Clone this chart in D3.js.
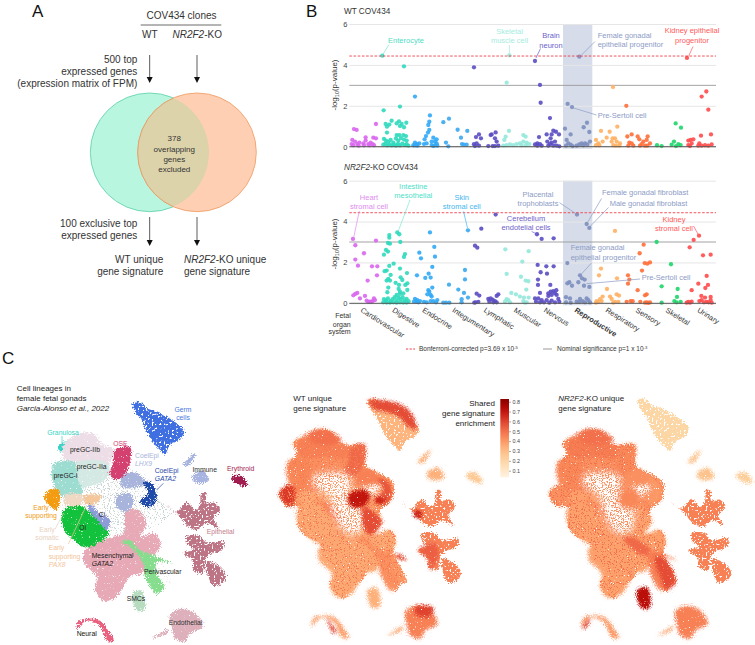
<!DOCTYPE html>
<html>
<head>
<meta charset="utf-8">
<title>COV434 gene signatures</title>
<script src="https://d3js.org/d3.v7.min.js"></script>
<style>
  body { margin: 0; background: #fff; }
  text { font-family: "Liberation Sans", Arial, sans-serif; }
</style>
</head>
<body>
<svg id="fig" width="755" height="645"></svg>
<script>
// --- panel B data: [cell type rank, -log10(p)] ---
const organSystems = ["Cardiovascular","Digestive","Endocrine","Integumentary","Lymphatic","Muscular","Nervous","Reproductive","Respiratory","Sensory","Skeletal","Urinary"];
const organCentres = [190,285,375,465,560,650,740,832,925,1015,1105,1200];
const organColors = ["#d966ee","#2fd9bd","#31a9f5","#3aa8ee","#5a4cc2","#93e8da","#5a4cc2","#7c8ebf","#ffb063","#ff6f3a","#1ed66a","#ff4b4b"];

const wtCardio = [[162,.86],[170,.82],[228,1.11],[157,.33],[165,.25],[197,.46],[197,.3],[220,.44],[228,.41],[155,.13],[160,.07],[172,.13],[178,.2],[190,.16],[205,.13],[212,.2],[218,.13],[208,.07],[222,.07],[192,.07],[176,.05]];
const wtDigestive = [[247,4.45],[312,3.93],[300,1.96],[251,1.78],[275,1.27],[297,1.24],[257,1.11],[268,1.08],[290,1.14],[305,1.11],[319,1.17],[261,.98],[300,1.01],[312,.95],[261,.69],[290,.57],[298,.57],[310,.57],[318,.52],[252,.38],[258,.3],[265,.25],[272,.33],[280,.2],[288,.4],[295,.3],[303,.42],[312,.35],[320,.3],[250,.1],[256,.15],[262,.06],[268,.12],[275,.06],[282,.1],[288,.05],[294,.14],[300,.06],[307,.15],[314,.08],[320,.12],[325,.05]];
const wtEndocrine = [[345,2.45],[390,1.53],[388,1.22],[385,1.06],[388,.82],[384,.69],[378,.52],[374,.36],[400,.44],[410,.36],[380,.16],[372,.13],[345,.2],[352,.13],[358,.16],[345,.07],[340,.07],[352,.05],[395,.25],[405,.25],[410,.16],[395,.08],[405,.06],[412,.05],[400,.03]];
const wtInteg = [[430,1.2],[447,1.37],[438,.2],[445,.02],[473,.83],[502,.77],[483,.44],[486,.13],[492,.1],[500,.1]];
const wtLymph = [[522,3.88],[537,.6],[528,.47],[543,.41],[522,.12],[530,.16],[537,.05],[525,.03],[575,.6],[587,.7],[585,.41],[572,.57],[590,.25],[565,.03],[578,.03],[595,.05],[585,.03]];
const wtMuscular = [[628,4.47],[620,3.13],[627,.77],[617,.49],[613,.33],[670,.57],[677,.49],[610,.05],[620,.07],[630,.11],[640,.08],[650,.13],[660,.16],[670,.25],[680,.2],[688,.13],[678,.07],[665,.07]];
const wtNervous = [[705,4.19],[720,3.02],[722,2.15],[750,1.4],[717,.47],[740,.6],[755,.6],[760,.78],[768,.73],[777,.6],[752,.41],[742,.25],[755,.2],[765,.25],[712,.16],[705,.11],[720,.13],[725,.05],[745,.05],[760,.05],[770,.05],[778,.02],[750,.13],[712,.05]];
const wtRepro = [[838,4.4],[803,2.09],[816,1.94],[795,.88],[812,.6],[861,1.17],[851,.95],[868,.72],[800,.33],[805,.16],[812,.1],[798,.05],[830,.05],[838,.11],[845,.16],[855,.16],[862,.11],[870,.25],[850,.07],[818,.03]];
const wtResp = [[939,2.92],[952,.98],[903,.77],[929,.73],[888,.33],[920,.44],[938,.41],[945,.41],[895,.16],[908,.25],[935,.25],[950,.25],[960,.16],[888,.07],[898,.07],[940,.07],[948,.05],[958,.05]];
const wtSensory = [[979,2.0],[995,.6],[982,.5],[1013,.5],[1043,.5],[1018,.36],[1040,.33],[1030,.25],[988,.2],[995,.16],[1000,.05],[985,.05],[1025,.13],[1035,.05],[1050,.16],[1020,.05],[1042,.05]];
const wtSkeletal = [[1127,1.14],[1143,.93],[1071,.07],[1085,.03],[1122,.25],[1135,.13],[1115,.1],[1128,.03],[1142,.08]];
const wtUrinary = [[1161,4.34],[1219,2.7],[1205,2.45],[1225,1.81],[1233,.6],[1203,.54],[1165,.3],[1172,.33],[1180,.36],[1165,.08],[1175,.16],[1198,.16],[1205,.05],[1215,.07],[1225,.05],[1235,.11],[1170,.03],[1195,.05]];

const koCardio = [[159,3.15],[166,2.84],[228,3.07],[192,2.45],[166,2.14],[174,1.84],[216,1.81],[232,1.81],[231,1.37],[203,1.11],[172,.51],[166,.46],[160,.39],[195,.36],[180,.24],[200,.13],[210,.08],[222,.24],[218,.11],[205,.07],[225,.16],[214,.07]];
const koDigestive = [[292,3.47],[298,3.38],[268,3.34],[268,3.21],[264,2.95],[270,2.92],[301,3.0],[258,2.61],[264,2.53],[252,2.38],[315,2.41],[312,2.27],[281,1.94],[268,1.83],[300,1.7],[260,1.6],[254,1.57],[272,1.39],[321,1.48],[302,1.27],[265,1.19],[260,1.11],[270,1.11],[307,1.14],[287,1.0],[297,.9],[322,.98],[316,.9],[265,.77],[296,.7],[322,.65],[300,.57],[262,.54],[290,.41],[300,.46],[310,.49],[252,.2],[258,.14],[264,.24],[272,.1],[278,.2],[284,.3],[290,.14],[296,.28],[302,.2],[308,.3],[314,.14],[320,.22],[326,.1],[250,.05],[260,.04],[270,.04],[280,.05],[290,.03],[300,.05],[310,.04],[320,.04]];
const koEndocrine = [[390,3.47],[403,2.76],[358,2.48],[363,2.2],[405,2.28],[397,1.78],[351,1.37],[386,1.45],[376,1.24],[392,1.26],[397,.77],[385,.64],[388,.57],[382,.44],[392,.41],[395,.33],[345,.21],[352,.16],[360,.11],[342,.08],[372,.07],[380,.05],[392,.11],[400,.11],[412,.16],[408,.05],[350,.07],[355,.05]];
const koInteg = [[504,3.57],[495,1.63],[495,1.17],[447,.91],[475,.67],[492,.51],[504,.28],[485,.2],[430,.03],[438,.03],[448,.03],[485,.05]];
const koLymph = [[587,4.34],[544,3.65],[525,2.82],[532,2.72],[530,.47],[538,.38],[527,.05],[535,.07],[523,.03],[565,.21],[572,.24],[578,.18],[585,.11],[595,.44],[590,.36],[568,.08],[580,.05],[590,.05]];
const koMuscular = [[616,2.64],[686,2.55],[667,2.04],[620,1.44],[663,1.3],[677,1.11],[685,1.08],[679,.67],[634,.51],[648,.44],[660,.33],[672,.28],[686,.28],[620,.2],[625,.16],[615,.08],[630,.05],[680,.05],[670,.11],[675,.03]];
const koNervous = [[711,3.38],[725,3.15],[761,3.18],[713,1.88],[739,1.81],[761,1.81],[722,1.52],[741,1.45],[714,1.16],[714,.9],[751,.9],[769,.64],[760,.6],[752,.57],[745,.49],[720,.51],[765,.49],[755,.41],[770,.41],[745,.36],[705,.24],[715,.24],[725,.16],[708,.08],[720,.05],[740,.16],[755,.13],[765,.05],[775,.21],[748,.03],[778,.07],[732,.05]];
const koRepro = [[831,4.34],[860,3.88],[868,3.69],[802,1.97],[840,1.37],[846,1.22],[854,1.16],[808,1.03],[802,.98],[835,1.03],[816,.86],[852,.86],[868,.8],[798,.3],[810,.24],[840,.21],[860,.24],[830,.08],[838,.07],[848,.11],[855,.05],[865,.16],[798,.05],[812,.03],[870,.05]];
const koResp = [[945,3.54],[903,1.7],[897,1.37],[951,1.22],[921,.7],[950,.44],[957,.38],[930,.33],[935,.21],[908,.33],[900,.2],[890,.11],[895,.07],[905,.11],[945,.07],[955,.07],[940,.03],[888,.03]];
const koSensory = [[1031,2.87],[1019,2.45],[1034,1.97],[1050,2.0],[1042,1.94],[1026,1.6],[984,1.37],[988,1.16],[984,.96],[1013,.64],[1040,.44],[1035,.39],[980,.07],[992,.11],[998,.1],[1021,.07],[1040,.05],[1050,.05],[1045,.02],[1035,.03]];
const koSkeletal = [[1070,3.0],[1113,1.91],[1085,.83],[1133,.7],[1131,.31],[1123,.11],[1142,.07],[1085,.03],[1130,.05]];
const koUrinary = [[1197,3.31],[1181,3.1],[1169,2.74],[1209,2.35],[1232,2.38],[1220,1.34],[1195,.96],[1224,.9],[1216,.75],[1175,.64],[1204,.36],[1232,.31],[1215,.28],[1205,.16],[1198,.11],[1220,.07],[1232,.16],[1165,.07],[1175,.08],[1160,.03],[1170,.03],[1212,.05],[1226,.05],[1235,.03]];

const wtSeries = [wtCardio,wtDigestive,wtEndocrine,wtInteg,wtLymph,wtMuscular,wtNervous,wtRepro,wtResp,wtSensory,wtSkeletal,wtUrinary];
const koSeries = [koCardio,koDigestive,koEndocrine,koInteg,koLymph,koMuscular,koNervous,koRepro,koResp,koSensory,koSkeletal,koUrinary];
const yTicks = [0,2,4,6];
const bonferroni = 4.433;
const nominal = 3;
const reproductiveBand = [789,877];

// --- panel A data ---
const vennCentres = [449,591];
const vennRadius = 178;

// --- panel C data: lineage outlines in UMAP units ---
const bodyOutline = [[132,379],[150,359],[175,354],[180,344],[158,299],[185,259],[175,224],[230,214],[265,187],[290,194],[325,234],[385,234],[395,299],[435,319],[475,349],[465,404],[435,429],[435,464],[410,509],[445,499],[465,489],[482,519],[475,554],[515,644],[495,649],[485,674],[435,599],[410,599],[380,639],[340,669],[330,694],[295,674],[285,649],[305,609],[265,569],[255,529],[215,509],[190,479],[190,419],[155,419]];
const sparseHoles = [
  [[236,325],[290,315],[342,325],[348,374],[338,405],[384,425],[384,482],[360,503],[325,492],[292,430],[282,389],[236,358]],
  [[388,345],[432,350],[438,376],[405,388],[383,370]]
];
const scatterCloud = [[235,345],[340,330],[420,345],[490,400],[520,425],[440,480],[345,495],[320,430],[275,395]];
const clusterColors = ["#3f6fe0","#35d4c4","#ecdde6","#d5e9e4","#9ddcd0","#d4406f","#e8a9b6","#12c23c","#8d9bd8","#f0d9c4","#f5c79c","#f39c12","#86dd8e","#b8dcc0","#ddb0bb","#ddb0bb","#e8607e","#bd7485","#bd7485","#bd7485","#a7b3e0","#a7b3e0","#a21d4f","#a9b4dc","#a9b4dc","#1f49a8"];
const clusterShapes = [
  // germ
  [[398,100],[420,95],[440,115],[470,125],[500,140],[530,160],[552,185],[542,208],[510,225],[495,252],[478,238],[458,215],[440,185],[425,150],[405,125]],
  // granulosa
  [[176,226],[190,216],[210,212],[198,230],[186,245],[175,238]],
  // preGC-IIb, IIa, I
  [[188,225],[210,205],[250,187],[285,195],[305,225],[338,235],[338,262],[320,287],[270,284],[225,282],[192,264]],
  [[222,280],[322,280],[328,315],[302,338],[270,348],[245,356],[225,335]],
  [[165,278],[225,278],[234,330],[248,372],[200,382],[172,368],[156,330],[154,300]],
  // OSE
  [[345,240],[390,232],[392,265],[372,320],[345,328],[328,315],[340,280]],
  // mesenchymal
  [[380,420],[415,420],[440,465],[420,500],[465,490],[482,530],[440,570],[425,610],[390,620],[350,680],[310,692],[285,660],[290,620],[252,580],[252,545],[290,518],[340,500],[370,490]],
  // Oi, Ci
  [[188,425],[225,405],[265,420],[295,450],[327,490],[295,518],[255,532],[215,505],[188,470]],
  [[265,400],[300,430],[330,450],[320,480],[300,460],[270,425]],
  // early somatic, PAX8, early supporting
  [[195,375],[245,375],[245,402],[195,405]],
  [[250,378],[305,378],[285,402],[258,402]],
  [[133,378],[150,358],[175,358],[180,385],[170,420],[150,408],[135,390]],
  // perivascular, SMCs
  [[365,515],[390,510],[420,540],[470,560],[515,580],[470,575],[470,610],[492,650],[470,672],[435,620],[430,580],[395,535]],
  [[398,670],[425,662],[434,718],[410,722],[400,700]],
  // endothelial and its tail
  [[510,735],[545,716],[585,730],[608,770],[572,790],[555,815],[525,805],[515,770]],
  [[458,806],[505,778],[500,790]],
  // neural
  [[230,778],[236,752],[260,746],[300,752],[330,790],[342,812],[322,812],[296,765],[258,752]],
  // epithelial (three lobes)
  [[500,405],[530,425],[560,395],[585,420],[600,405],[603,370],[618,372],[618,400],[645,398],[660,420],[640,445],[655,475],[620,460],[590,480],[560,465],[540,440]],
  [[560,499],[600,499],[620,519],[670,514],[665,539],[630,554],[615,574],[610,609],[580,599],[580,574],[550,549],[580,539],[560,519]],
  [[620,574],[650,584],[678,614],[668,639],[640,647],[625,619]],
  // immune, thin immune, erythroid
  [[578,316],[610,303],[627,330],[605,340],[578,332]],
  [[548,286],[587,248],[566,287]],
  [[693,326],[715,314],[742,340],[737,350],[710,341]],
  // CoelEpi LHX9 (two parts), GATA2
  [[365,320],[400,305],[430,325],[440,345],[420,350],[395,355],[365,350]],
  [[350,380],[390,370],[400,400],[380,425],[350,410]],
  [[430,335],[455,340],[470,370],[465,400],[445,412],[420,395],[445,370]]
];
const patchyClusters = [0,17,18,19];
const afterHoles = 23; // clusters from this index are drawn over the sparse area
const wtEnrichment = [.33,.42,.46,.42,.44,.52,.36,.36,.46,.36,.36,.62,.42,.34,.46,.36,.38,.46,.46,.46,.34,.34,.26,.46,.46,.56];
const koEnrichment = [.2,.42,.47,.42,.44,.44,.38,.38,.42,.38,.38,.42,.46,.7,.46,.36,.4,.46,.46,.46,.28,.28,.24,.42,.44,.4];
const wtBody = .4;
const koBody = .42;
const wtHotspots = [
  [[400,99],[435,99],[490,109],[530,139],[545,189],[520,179],[490,149],[450,134],[420,129]],
  [[220,204],[265,187],[320,219],[280,234],[230,224]],
  [[340,384],[390,369],[405,389],[380,419],[350,419]],
  [[385,419],[440,464],[405,504],[385,479]],
  [[420,394],[450,394],[445,409],[425,409]],
  [[535,434],[560,434],[555,454],[540,449]],
  [[550,549],[600,529],[610,569],[585,609],[580,579]],
  [[540,719],[595,721],[585,749],[545,744]],
  [[275,754],[305,799],[295,799],[280,769]],
  [[485,559],[515,579],[490,574]]
];
const wtHotValues = [.58,.5,.7,.58,.66,.68,.54,.6,.6,.6];
const koHotspots = [
  [[450,572],[475,572],[512,645],[485,668],[462,619]],
  [[398,672],[425,664],[431,722],[412,722]],
  [[355,509],[385,514],[435,549],[415,564],[375,539]],
  [[230,194],[285,189],[325,219],[265,234],[225,219]],
  [[230,784],[255,754],[247,779]]
];
const koHotValues = [.58,.72,.52,.5,.6];
const enrichTicks = [.1,.2,.3,.4,.5,.6,.7,.8];

const svg = d3.select("#fig");
const defs = svg.append("defs");

// speckle filters so the filled shapes read as dense / patchy / sparse dot clouds
function speckle(id, freq, k, t, disp, blur) {
  const f = defs.append("filter").attr("id", id)
    .attr("x", "-25%").attr("y", "-25%").attr("width", "150%").attr("height", "150%")
    .attr("color-interpolation-filters", "sRGB");
  f.append("feTurbulence").attr("type", "fractalNoise").attr("baseFrequency", freq)
    .attr("numOctaves", 2).attr("seed", 4).attr("result", "n");
  f.append("feTurbulence").attr("type", "fractalNoise").attr("baseFrequency", 0.9)
    .attr("numOctaves", 1).attr("seed", 9).attr("result", "n2");
  f.append("feGaussianBlur").attr("in", "SourceGraphic").attr("stdDeviation", blur).attr("result", "s");
  f.append("feDisplacementMap").attr("in", "s").attr("in2", "n2").attr("scale", disp)
    .attr("xChannelSelector", "R").attr("yChannelSelector", "G").attr("result", "d");
  f.append("feColorMatrix").attr("in", "n").attr("type", "matrix")
    .attr("values", `0 0 0 0 0 0 0 0 0 0 0 0 0 0 0 ${k} 0 0 0 ${t}`).attr("result", "m");
  f.append("feComposite").attr("in", "d").attr("in2", "m").attr("operator", "in").attr("result", "c");
  f.append("feGaussianBlur").attr("in", "c").attr("stdDeviation", 0.3);
}
speckle("dense", 0.85, 9, -1.8, 8, 0.2);
speckle("soft", 0.85, 9, -1.8, 8, 1.6);
speckle("patchy", 0.5, 10, -3.0, 7, 0.2);
speckle("sparse", 0.85, 14, -8.2, 8, 0.6);
speckle("hole", 0.85, 12, -5.0, 10, 3);

function txt(g, x, y, s, size, color, opts) {
  opts = opts || {};
  return g.append("text").attr("x", x).attr("y", y)
    .attr("font-size", size).attr("fill", color)
    .attr("text-anchor", opts.anchor || "start")
    .attr("font-style", opts.italic ? "italic" : null)
    .attr("font-weight", opts.bold ? "bold" : null)
    .html(s);
}
function leader(g, x1, y1, x2, y2, color) {
  g.append("line").attr("x1", x1).attr("y1", y1).attr("x2", x2).attr("y2", y2)
    .attr("stroke", color).attr("stroke-width", 0.7);
}

// ---------- panel A ----------
const a = svg.append("g");
const vennX = d3.scaleLinear().domain([0, 900]).range([0, 300]);
const vennY = vennX.copy();
txt(a, 32, 17, "A", 17, "#111");
defs.append("clipPath").attr("id", "leftClip").append("circle")
  .attr("cx", vennX(vennCentres[0])).attr("cy", vennY(457)).attr("r", vennX(vennRadius));
a.selectAll(".venn").data(vennCentres).enter().append("circle")
  .attr("cx", d => vennX(d)).attr("cy", vennY(457)).attr("r", vennX(vennRadius))
  .attr("fill", (d, i) => i ? "#ffcfb4" : "#b9f6e0")
  .attr("stroke", (d, i) => i ? "#ee9a60" : "#5ccfa8").attr("stroke-width", 0.8);
a.append("circle").attr("cx", vennX(vennCentres[1])).attr("cy", vennY(457)).attr("r", vennX(vennRadius))
  .attr("clip-path", "url(#leftClip)").attr("fill", "#ddd3ab").attr("stroke", "#e29a66").attr("stroke-width", 0.8);

function arrow(g, x, y1, y2) {
  g.append("line").attr("x1", x).attr("x2", x).attr("y1", y1).attr("y2", y2 - 5).attr("stroke", "#333").attr("stroke-width", 0.8);
  g.append("path").attr("d", `M${x - 3},${y2 - 6}L${x + 3},${y2 - 6}L${x},${y2}Z`).attr("fill", "#111");
}
vennCentres.forEach(c => {
  arrow(a, vennX(c), 55, 83);
  arrow(a, vennX(c), 217, 246);
});
txt(a, 181.5, 19.3, "COV434 clones", 10, "#333", {anchor: "middle"});
a.append("line").attr("x1", 140.7).attr("x2", 221.3).attr("y1", 25).attr("y2", 25).attr("stroke", "#444").attr("stroke-width", 0.8);
txt(a, 142, 38.3, "WT", 10, "#333");
txt(a, 172.5, 38.3, '<tspan font-style="italic">NR2F2</tspan>-KO', 10, "#333");
txt(a, 137.3, 63.3, "500 top", 10, "#333", {anchor: "end"});
txt(a, 137.3, 75.3, "expressed genes", 10, "#333", {anchor: "end"});
txt(a, 137.3, 87.3, "(expression matrix of FPM)", 10, "#333", {anchor: "end"});
["378","overlapping","genes","excluded"].forEach((s, i) => txt(a, 174.3, [141.3,152,162.3,172][i], s, 8, "#333", {anchor: "middle"}));
txt(a, 137.3, 226.7, "100 exclusive top", 10, "#333", {anchor: "end"});
txt(a, 137.3, 238.7, "expressed genes", 10, "#333", {anchor: "end"});
txt(a, 163.3, 263.3, "WT unique", 10, "#333", {anchor: "end"});
txt(a, 163.3, 275.3, "gene signature", 10, "#333", {anchor: "end"});
txt(a, 184, 263.3, '<tspan font-style="italic">NR2F2</tspan>-KO unique', 10, "#333");
txt(a, 184, 275.3, "gene signature", 10, "#333");

// ---------- panel B ----------
const b = svg.append("g");
const x = d3.scaleLinear().domain([148, 1248]).range([349.3, 716]);

function manhattan(series, y6, y0) {
  const g = b.append("g");
  const y = d3.scaleLinear().domain([0, 6]).range([y0, y6]);
  g.append("rect").attr("x", x(reproductiveBand[0])).attr("width", x(reproductiveBand[1]) - x(reproductiveBand[0]))
    .attr("y", y(6)).attr("height", y(0) - y(6) + 2).attr("fill", "#d6dce9");
  const ax = g.append("g").attr("transform", `translate(${x(148)},0)`)
    .call(d3.axisLeft(y).tickValues(yTicks).tickSize(-(x(1248) - x(148))).tickPadding(2).tickFormat(d3.format("d")));
  ax.select(".domain").remove();
  ax.selectAll("line").attr("stroke", "#e6e6e6");
  ax.selectAll("text").attr("font-size", 7.5).attr("fill", "#444").attr("font-family", "Liberation Sans");
  g.append("line").attr("x1", x(148)).attr("x2", x(1248)).attr("y1", y(nominal)).attr("y2", y(nominal)).attr("stroke", "#999").attr("stroke-width", 0.9);
  series.forEach((pts, i) => {
    g.selectAll(".d" + i).data(pts).enter().append("circle")
      .attr("cx", d => x(d[0])).attr("cy", d => y(d[1])).attr("r", 2.15)
      .attr("fill", organColors[i]).attr("fill-opacity", 0.9);
  });
  g.append("line").attr("x1", x(148)).attr("x2", x(1248)).attr("y1", y(0)).attr("y2", y(0)).attr("stroke", "#555").attr("stroke-width", 1);
  g.append("line").attr("x1", x(148)).attr("x2", x(1248)).attr("y1", y(bonferroni)).attr("y2", y(bonferroni))
    .attr("stroke", "#f0404a").attr("stroke-width", 0.9).attr("stroke-dasharray", "2.6,1.6");
  return y;
}
manhattan(wtSeries, 24, 146.7);
manhattan(koSeries, 180.7, 303.3);

const yLabel = (cy) => {
  b.append("text").attr("transform", `translate(337,${cy}) rotate(-90)`).attr("text-anchor", "middle")
    .attr("font-size", 8).attr("fill", "#333")
    .html('-log<tspan font-size="5.5" dy="1.5">10</tspan><tspan dy="-1.5">(p-value)</tspan>');
};
yLabel(85); yLabel(244);
txt(b, 306, 17, "B", 17, "#111");
txt(b, 344, 13.5, "WT COV434", 8.2, "#333");
txt(b, 344, 170, '<tspan font-style="italic">NR2F2</tspan>-KO COV434', 8.2, "#333");

const F = 7.5, rep = "#8d9cc6", red = "#ff5a5a";
txt(b, 406, 43, "Enterocyte", F, "#4fdcc4", {anchor: "middle"});
leader(b, 382.5, 55, 389, 44.5, "#7fe6d2");
txt(b, 509.5, 34, "Skeletal", F, "#a5ece0", {anchor: "middle"});
txt(b, 509.5, 43, "muscle cell", F, "#a5ece0", {anchor: "middle"});
leader(b, 509.5, 45, 509.5, 53, "#a5ece0");
txt(b, 551, 38.3, "Brain", F, "#6b5fcc", {anchor: "middle"});
txt(b, 551, 47.7, "neuron", F, "#6b5fcc", {anchor: "middle"});
leader(b, 540.5, 48.5, 536, 58, "#6b5fcc");
txt(b, 597.7, 37.7, "Female gonadal", F, rep);
txt(b, 597.7, 47, "epithelial progenitor", F, rep);
leader(b, 595, 41.5, 581.5, 55, rep);
txt(b, 692, 33.3, "Kidney epithelial", F, red, {anchor: "middle"});
txt(b, 692, 42.7, "progenitor", F, red, {anchor: "middle"});
leader(b, 693, 46.5, 688.7, 56, red);
txt(b, 597.7, 118.3, "Pre-Sertoli cell", F, rep);
leader(b, 572, 107.5, 596.5, 115, rep);

txt(b, 369, 200, "Heart", F, "#e08cf0", {anchor: "middle"});
txt(b, 369, 209, "stromal cell", F, "#e08cf0", {anchor: "middle"});
leader(b, 359.3, 211, 353.7, 237.5, "#e08cf0");
txt(b, 413.3, 189, "Intestine", F, "#4fe0c8", {anchor: "middle"});
txt(b, 413.3, 198, "mesothelial", F, "#4fe0c8", {anchor: "middle"});
leader(b, 410, 200, 398.3, 231, "#7fe6d2");
txt(b, 461.7, 200, "Skin", F, "#3fb6f0", {anchor: "middle"});
txt(b, 461.7, 209, "stromal cell", F, "#3fb6f0", {anchor: "middle"});
leader(b, 463.5, 211.5, 467.5, 228, "#3fb6f0");
txt(b, 526, 221.3, "Cerebellum", F, "#6f63cc", {anchor: "middle"});
txt(b, 526, 230.3, "endotelial cells", F, "#6f63cc", {anchor: "middle"});
leader(b, 531.7, 231.5, 536.7, 234, "#6f63cc");
txt(b, 538, 196.7, "Placental", F, rep, {anchor: "middle"});
txt(b, 538, 205.7, "trophoblasts", F, rep, {anchor: "middle"});
leader(b, 559.5, 202.7, 576, 213.7, rep);
txt(b, 602, 195, "Female gonadal fibroblast", F, rep);
leader(b, 601.5, 198.5, 587.5, 222.5, rep);
txt(b, 609.7, 206.3, "Male gonadal fibroblast", F, rep);
leader(b, 608.5, 207.5, 590, 226.5, rep);
txt(b, 570.7, 250, "Female gonadal", F, rep);
txt(b, 570.7, 259.7, "epithelial progenitor", F, rep);
leader(b, 591.5, 263, 580.5, 275, rep);
txt(b, 641.7, 280.3, "Pre-Sertoli cell", F, rep);
leader(b, 640, 279, 586.5, 283.7, rep);
txt(b, 674, 222, "Kidney", F, red, {anchor: "middle"});
txt(b, 674, 231, "stromal cell", F, red, {anchor: "middle"});
leader(b, 693.5, 226, 698, 234, red);

["Fetal","organ","system"].forEach((s, i) => txt(b, 350.7, [318.3,326.7,334.3][i], s, 7, "#333", {anchor: "end"}));
organSystems.forEach((s, i) => {
  b.append("text").attr("transform", `translate(${x(organCentres[i]) - 3.3},311.5) rotate(32)`)
    .attr("font-size", 7.5).attr("fill", "#333")
    .attr("font-weight", s === "Reproductive" ? "bold" : null).text(s);
});
b.append("line").attr("x1", 406).attr("x2", 415).attr("y1", 349).attr("y2", 349).attr("stroke", "#f0404a").attr("stroke-dasharray", "2.2,1.4");
txt(b, 419, 351, 'Bonferroni-corrected p=3.69 x 10<tspan font-size="4.2" dy="-2">-5</tspan>', 6.5, "#333");
b.append("line").attr("x1", 543).attr("x2", 552).attr("y1", 349).attr("y2", 349).attr("stroke", "#999");
txt(b, 557, 351, 'Nominal significance p=1 x 10<tspan font-size="4.2" dy="-2">-3</tspan>', 6.5, "#333");

// ---------- panel C ----------
const c = svg.append("g");
const blob = d3.line().curve(d3.curveCatmullRomClosed.alpha(0.5));
const enrich = d3.scaleSequential(d3.interpolateOrRd).domain([0, .85]);

function umap(dx, dy, fills, body, hotShapes, hotValues) {
  const ux = d3.scaleLinear().domain([0, 810]).range([dx, dx + 270]);
  const uy = d3.scaleLinear().domain([0, 810]).range([dy, dy + 270]);
  const path = pts => blob(pts.map(p => [ux(p[0]), uy(p[1])]));
  const g = c.append("g");
  const shape = (pts, fill, filt) => g.append("path").attr("d", path(pts)).attr("fill", fill).attr("filter", "url(#" + filt + ")");
  const cluster = i => shape(clusterShapes[i], fills[i], patchyClusters.includes(i) ? "patchy" : (body == null ? "dense" : "soft"));

  if (body == null) {
    // lineage panel: a pale scatter sits under the coloured clusters
    shape(bodyOutline, "#f0e6e9", "sparse");
    shape(scatterCloud, "#c8d6d2", "sparse");
    clusterShapes.forEach((s, i) => cluster(i));
  } else {
    // enrichment panels: one body, lineage tints, grain, then the thin centre
    shape(bodyOutline, enrich(body), "dense");
    d3.range(afterHoles).forEach(cluster);
    shape(bodyOutline, enrich(body + .08), "sparse");
    sparseHoles.forEach(h => shape(h, "#fff", "hole"));
    d3.range(afterHoles, clusterShapes.length).forEach(cluster);
    hotShapes.forEach((s, i) => shape(s, enrich(hotValues[i]), "soft"));
  }
  return [ux, uy];
}
const [ux1, uy1] = umap(0, 370, clusterColors, null, [], []);
umap(235, 367, wtEnrichment.map(v => enrich(v)), wtBody, wtHotspots, wtHotValues);
umap(505, 367, koEnrichment.map(v => enrich(v)), koBody, koHotspots, koHotValues);

txt(c, 2, 364, "C", 17, "#111");
txt(c, 16.7, 390.7, "Cell lineages in", 8, "#222");
txt(c, 16.7, 400.7, "female fetal gonads", 8, "#222");
txt(c, 16.7, 410.7, "Garcia-Alonso et al., 2022", 8, "#222", {italic: true});

const L = 6.8;
const zl = (zx, zy, s, color, opts) => txt(c, ux1(zx), uy1(zy), s, L, color, opts);
const mid = {anchor: "middle"};
zl(549, 127, "Germ", "#4a78e0", mid); zl(549, 150, "cells", "#4a78e0", mid);
zl(189, 195, "Granulosa", "#35d4c4", mid);
zl(255, 245, "preGC-IIb", "#222", mid);
zl(361, 227, "OSE", "#d4406f", mid);
zl(275, 297, "preGC-IIa", "#222", mid);
zl(197, 324, "preGC-I", "#222", mid);
zl(405, 265, "CoelEpi", "#a9b4dc"); zl(405, 288, "LHX9", "#a9b4dc", {italic: true});
zl(464, 310, "CoelEpi", "#1f49a8"); zl(464, 333, "GATA2", "#1f49a8", {italic: true});
zl(614, 306, "Immune", "#333", mid);
zl(722, 304, "Erythroid", "#a21d4f", mid);
zl(123, 421, "Early", "#f09a12", mid); zl(123, 445, "supporting", "#f09a12", mid);
zl(141, 486, "Early", "#e8d2c0", mid); zl(141, 511, "somatic", "#e8d2c0", mid);
zl(146, 541, "Early", "#f2c499"); zl(146, 566, "supporting", "#f2c499"); zl(146, 590, "PAX8", "#f2c499", {italic: true});
zl(306, 442, "Ci", "#222", mid);
zl(248, 480, "Oi", "#222", mid);
zl(620, 492, "Epithelial", "#c47c8c");
zl(275, 565, "Mesenchymal", "#222"); zl(275, 589, "GATA2", "#222", {italic: true});
zl(432, 613, "Perivascular", "#222");
zl(380, 692, "SMCs", "#222");
zl(506, 766, "Endothelial", "#333");
zl(230, 798, "Neural", "#111");
leader(c, ux1(490), uy1(340), ux1(470), uy1(360), "#1f49a8");
leader(c, ux1(186), uy1(198), ux1(186), uy1(220), "#35d4c4");
leader(c, ux1(165), uy1(478), ux1(190), uy1(430), "#e8d2c0");
leader(c, ux1(205), uy1(522), ux1(260), uy1(405), "#f2c499");

txt(c, 293.3, 400.7, "WT unique", 8, "#222");
txt(c, 293.3, 410.7, "gene signature", 8, "#222");
txt(c, 558.3, 400.7, '<tspan font-style="italic">NR2F2</tspan>-KO unique', 8, "#222");
txt(c, 558.3, 410.7, "gene signature", 8, "#222");
txt(c, 495, 406, "Shared", 8, "#222", {anchor: "end"});
txt(c, 495, 416, "gene signature", 8, "#222", {anchor: "end"});
txt(c, 495, 425.7, "enrichment", 8, "#222", {anchor: "end"});

// colour bar
const barY = d3.scaleLinear().domain([.1, .8]).range([470.7, 401.7]);
const grad = defs.append("linearGradient").attr("id", "barGrad").attr("x1", 0).attr("x2", 0).attr("y1", 1).attr("y2", 0);
d3.range(0, 1.01, .1).forEach(t => grad.append("stop").attr("offset", t)
  .attr("stop-color", enrich(barY.invert(477.3 + t * (399 - 477.3)))));
c.append("rect").attr("x", 500.3).attr("y", 399).attr("width", 8.7).attr("height", 78.3).attr("fill", "url(#barGrad)");
const barAxis = c.append("g").attr("transform", "translate(509,0)")
  .call(d3.axisRight(barY).tickValues(enrichTicks).tickSize(2).tickPadding(1.5).tickFormat(d3.format(".1f")));
barAxis.select(".domain").remove();
barAxis.selectAll("line").attr("stroke", "#555").attr("stroke-width", 0.5);
barAxis.selectAll("text").attr("font-size", 5.4).attr("fill", "#444").attr("font-family", "Liberation Sans");
</script>
</body>
</html>
